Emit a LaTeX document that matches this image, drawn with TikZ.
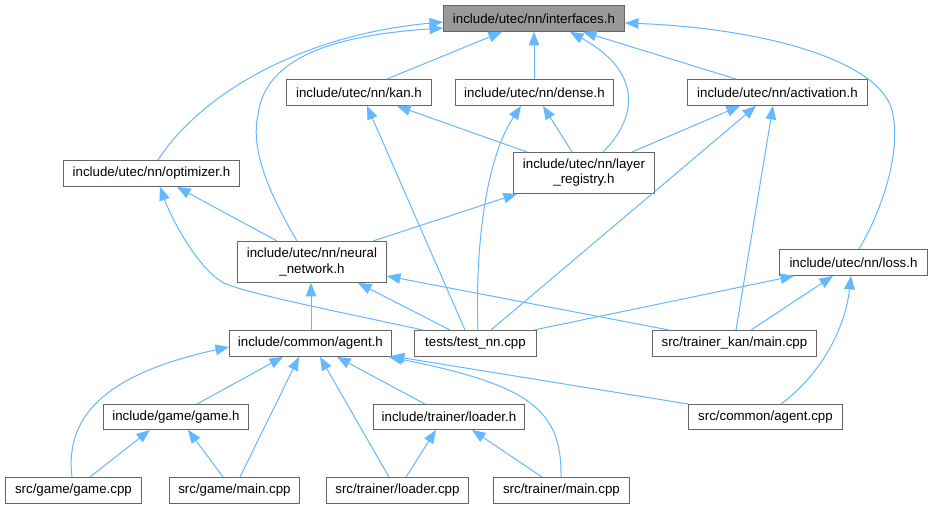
\documentclass[tikz,border=0pt]{standalone}
\usepackage{fontspec}
\setmainfont{Liberation Sans}
\usetikzlibrary{arrows.meta}
\definecolor{edgeblue}{HTML}{63B8FF}
\definecolor{boxline}{HTML}{666666}
\definecolor{rootfill}{HTML}{999999}
\tikzset{
  box/.style={draw=boxline, line width=0.9pt, fill=white, anchor=north west, inner sep=0pt, align=center,
    font=\fontsize{13.3}{15.2}\selectfont, text=black},
  rootbox/.style={box, fill=rootfill},
  edge/.style={draw=edgeblue, line width=1pt, -{Triangle[length=13.5pt,width=10.5pt]}},
}
\begin{document}
\begin{tikzpicture}[x=1pt,y=-1pt]
\useasboundingbox[fill=white] (0,0) rectangle (932,508);
% nodes
\node[rootbox, minimum width=181, minimum height=26] (ifc) at (443,5) {include/utec/nn/interfaces.h};
\node[box, minimum width=145, minimum height=26] (kan) at (286,79) {include/utec/nn/kan.h};
\node[box, minimum width=158, minimum height=26] (dense) at (455,79) {include/utec/nn/dense.h};
\node[box, minimum width=180, minimum height=26] (act) at (687,79) {include/utec/nn/activation.h};
\node[box, minimum width=141, minimum height=41] (lreg) at (513,152) {include/utec/nn/layer\\\_registry.h};
\node[box, minimum width=176, minimum height=26] (opt) at (63,160) {include/utec/nn/optimizer.h};
\node[box, minimum width=149, minimum height=41] (nn) at (237,241) {include/utec/nn/neural\\\_network.h};
\node[box, minimum width=148, minimum height=26] (loss) at (779,249) {include/utec/nn/loss.h};
\node[box, minimum width=162, minimum height=26] (agent) at (229,330) {include/common/agent.h};
\node[box, minimum width=122, minimum height=26] (test) at (414,330) {tests/test\_nn.cpp};
\node[box, minimum width=164, minimum height=26] (tkan) at (652,330) {src/trainer\_kan/main.cpp};
\node[box, minimum width=145, minimum height=25] (gameh) at (103,404) {include/game/game.h};
\node[box, minimum width=151, minimum height=25] (loaderh) at (373,404) {include/trainer/loader.h};
\node[box, minimum width=154, minimum height=25] (agentcpp) at (688,404) {src/common/agent.cpp};
\node[box, minimum width=136, minimum height=26] (gamecpp) at (5,477) {src/game/game.cpp};
\node[box, minimum width=130, minimum height=26] (gmain) at (169,477) {src/game/main.cpp};
\node[box, minimum width=142, minimum height=26] (lcpp) at (326,477) {src/trainer/loader.cpp};
\node[box, minimum width=136, minimum height=26] (tmain) at (493,477) {src/trainer/main.cpp};
% edges to interfaces.h
\draw[edge] ([xshift=101]kan.north west) -- ([xshift=59]ifc.south west);
\draw[edge] ([xshift=79]dense.north west) -- ([xshift=91]ifc.south west);
\draw[edge] ([xshift=49]act.north west) -- ([xshift=140]ifc.south west);
\draw[edge] ([xshift=90]lreg.north west) .. controls (640,115) and (640,70) .. ([xshift=127]ifc.south west);
\draw[edge] ([xshift=95]opt.north west) .. controls (200,95) and (300,35) .. ([yshift=-17]ifc.north west);
\draw[edge] ([xshift=60]nn.north west) .. controls (270,195) and (250,150) .. (258,115) .. controls (265,55) and (340,35) .. ([yshift=-23]ifc.north west);
\draw[edge] ([xshift=80]loss.north west) .. controls (885,205) and (900,150) .. (893,115) .. controls (885,60) and (760,28) .. ([yshift=-18]ifc.north east);
% layer_registry
\draw[edge] ([xshift=14]lreg.north west) -- ([xshift=111]kan.south west);
\draw[edge] ([xshift=59]lreg.north west) -- ([xshift=88]dense.south west);
\draw[edge] ([xshift=119]lreg.north west) -- ([xshift=53]act.south west);
% neural_network
\draw[edge] ([xshift=136]nn.north west) -- ([xshift=4]lreg.south west);
\draw[edge] ([xshift=40]nn.north west) -- ([xshift=114]opt.south west);
% test_nn
\draw[edge] ([xshift=9]test.north west) .. controls (330,310) and (240,292) .. (222,282) .. controls (195,265) and (170,215) .. ([xshift=97]opt.south west);
\draw[edge] ([xshift=51]test.north west) -- ([xshift=81]kan.south west);
\draw[edge] ([xshift=64]test.north west) .. controls (475,250) and (485,160) .. ([xshift=66]dense.south west);
\draw[edge] ([xshift=77]test.north west) -- ([xshift=69]act.south west);
\draw[edge] ([xshift=36]test.north west) -- ([xshift=121]nn.south west);
\draw[edge] ([xshift=120]test.north west) -- ([xshift=15]loss.south west);
% trainer_kan
\draw[edge] ([xshift=84]tkan.north west) -- ([xshift=86]act.south west);
\draw[edge] ([xshift=17]tkan.north west) -- ([yshift=-35]nn.north east);
\draw[edge] ([xshift=99]tkan.north west) -- ([xshift=54]loss.south west);
% agent.cpp
\draw[edge] ([xshift=93]agentcpp.north west) .. controls (820,375) and (845,330) .. ([xshift=72]loss.south west);
\draw[edge] (agentcpp.north west) -- ([xshift=-1,yshift=1]agent.south east);
% agent.h
\draw[edge] ([xshift=82]agent.north west) -- ([xshift=74]nn.south west);
\draw[edge] ([xshift=67]gamecpp.north west) .. controls (65,420) and (100,375) .. ([yshift=-17]agent.north west);
\draw[edge] ([xshift=94]gameh.north west) -- ([xshift=54]agent.south west);
\draw[edge] ([xshift=71]gmain.north west) -- ([xshift=70]agent.south west);
\draw[edge] ([xshift=63]lcpp.north west) -- ([xshift=91]agent.south west);
\draw[edge] ([xshift=52]loaderh.north west) -- ([xshift=108]agent.south west);
\draw[edge] ([xshift=68]tmain.north west) .. controls (562,410) and (530,385) .. ([xshift=-3]agent.south east);
% game.h
\draw[edge] ([xshift=85]gamecpp.north west) -- ([xshift=47]gameh.south west);
\draw[edge] ([xshift=54]gmain.north west) -- ([xshift=85]gameh.south west);
% loader.h
\draw[edge] ([xshift=80]lcpp.north west) -- ([xshift=63]loaderh.south west);
\draw[edge] ([xshift=49]tmain.north west) -- ([xshift=99]loaderh.south west);
\end{tikzpicture}
\end{document}
